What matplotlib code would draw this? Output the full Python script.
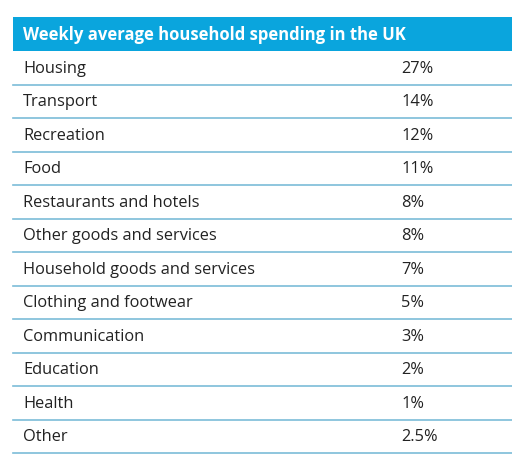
import matplotlib

matplotlib.use("Agg")
import matplotlib.pyplot as plt
from matplotlib.patches import Rectangle

TITLE = "Weekly average household spending in the UK"
CATEGORIES = [
    "Housing", "Transport", "Recreation", "Food", "Restaurants and hotels",
    "Other goods and services", "Household goods and services",
    "Clothing and footwear", "Communication", "Education", "Health", "Other",
]
SHARES = ["27%", "14%", "12%", "11%", "8%", "8%", "7%", "5%", "3%", "2%", "1%", "2.5%"]

W, H = 512, 462
BLUE = "#0aa5dd"
LINE = "#7cbcd8"

fig = plt.figure(figsize=(W / 100, H / 100), dpi=100)
ax = fig.add_axes([0, 0, 1, 1])
ax.set_xlim(0, W)
ax.set_ylim(H, 0)
ax.axis("off")

x0, top, head_h, row_h = 13, 17, 34, 33.5
ax.add_patch(Rectangle((x0, top), W - x0, head_h, color=BLUE, lw=0))
ax.text(23, top + head_h / 2 + 1, TITLE, color="white", fontsize=12,
        fontweight="bold", va="center", family="Open Sans")

y = top + head_h
for cat, val in zip(CATEGORIES, SHARES):
    ax.text(23, y + row_h / 2 + 1, cat, color="#222222", fontsize=11.8,
            va="center", family="Open Sans")
    ax.text(401, y + row_h / 2 + 1, val, color="#222222", fontsize=11.8,
            va="center", family="Open Sans")
    y += row_h
    ax.plot([x0, W], [y, y], color=LINE, lw=1.2)

fig.savefig("out.png", dpi=100)
